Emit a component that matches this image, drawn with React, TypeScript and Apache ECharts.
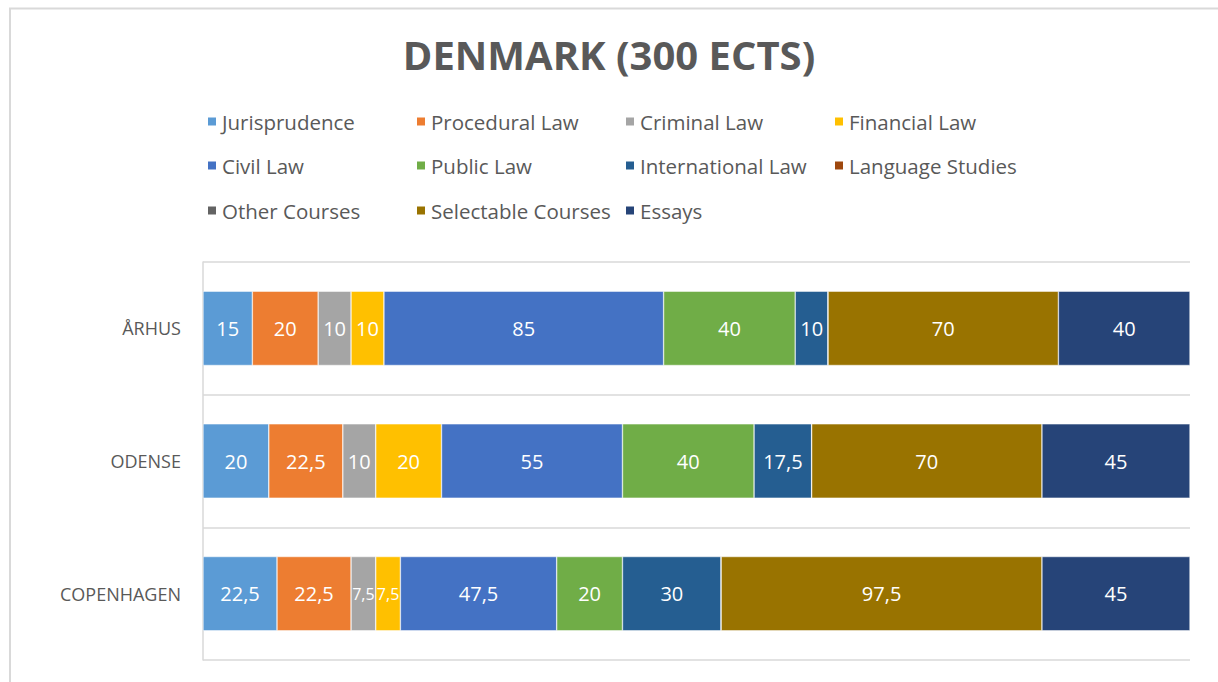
import React, { useEffect, useRef } from "react";
import * as echarts from "echarts";

const categories = ["ÅRHUS", "ODENSE", "COPENHAGEN"];
const seriesNames = [
  "Jurisprudence",
  "Procedural Law",
  "Criminal Law",
  "Financial Law",
  "Civil Law",
  "Public Law",
  "International Law",
  "Language Studies",
  "Other Courses",
  "Selectable Courses",
  "Essays",
];
const jurisprudence = [15, 20, 22.5];
const proceduralLaw = [20, 22.5, 22.5];
const criminalLaw = [10, 10, 7.5];
const financialLaw = [10, 20, 7.5];
const civilLaw = [85, 55, 47.5];
const publicLaw = [40, 40, 20];
const internationalLaw = [10, 17.5, 30];
const languageStudies = [0, 0, 0];
const otherCourses = [0, 0, 0];
const selectableCourses = [70, 70, 97.5];
const essays = [40, 45, 45];
const seriesValues = [
  jurisprudence,
  proceduralLaw,
  criminalLaw,
  financialLaw,
  civilLaw,
  publicLaw,
  internationalLaw,
  languageStudies,
  otherCourses,
  selectableCourses,
  essays,
];
const colors = [
  "#5B9BD5",
  "#ED7D31",
  "#A5A5A5",
  "#FFC000",
  "#4472C4",
  "#70AD47",
  "#255E91",
  "#9E480E",
  "#636363",
  "#997300",
  "#264478",
];

const FONT = "'Open Sans', 'Noto Sans', sans-serif";

export default function App() {
  const ref = useRef<HTMLDivElement>(null);
  useEffect(() => {
    if (!ref.current) return;
    const chart = echarts.init(ref.current, undefined, { renderer: "svg" });
    const colX = [206, 415, 624, 833];
    const rowY = [111, 155, 200];
    const legends = seriesNames.map((name, i) => ({
      show: true,
      left: colX[i % 4],
      top: rowY[Math.floor(i / 4)],
      padding: 0,
      itemWidth: 10,
      itemHeight: 10,
      icon: "rect",
      data: [name],
      selectedMode: false,
      textStyle: { color: "#595959", fontSize: 20.5, fontFamily: FONT },
    }));
    chart.setOption({
      animation: false,
      color: colors,
      title: {
        text: "DENMARK (300 ECTS)",
        left: "center",
        top: 29,
        textStyle: {
          color: "#595959",
          fontSize: 40,
          fontWeight: "bold",
          fontFamily: FONT,
        },
      },
      legend: legends,
      graphic: [
        {
          type: "polyline",
          shape: { points: [[10, 682], [10, 8.5], [1218, 8.5]] },
          style: { stroke: "#d9d9d9", lineWidth: 2, fill: "none" },
          silent: true,
        },
      ],
      grid: { left: 203, right: 28, top: 262, bottom: 22, containLabel: false },
      xAxis: {
        type: "value",
        min: 0,
        max: 300,
        axisLabel: { show: false },
        axisLine: { show: false },
        axisTick: { show: false },
        splitLine: { show: false },
      },
      yAxis: {
        type: "category",
        data: categories,
        inverse: true,
        axisLine: { show: true, lineStyle: { color: "#d9d9d9", width: 1.5 } },
        axisTick: { show: false },
        splitLine: { show: true, lineStyle: { color: "#d9d9d9", width: 1.5 } },
        axisLabel: {
          color: "#595959",
          fontSize: 18,
          fontFamily: FONT,
          margin: 22,
        },
      },
      series: seriesNames.map((name, i) => ({
        name,
        type: "bar",
        stack: "total",
        barWidth: "56%",
        data: seriesValues[i].map((v) =>
          v > 0 && v < 9 ? { value: v, label: { fontSize: 16 } } : v
        ),
        itemStyle: { color: colors[i], borderColor: "#ffffff", borderWidth: 0.5 },
        label: {
          show: true,
          position: "inside",
          color: "#ffffff",
          fontSize: 20,
          fontFamily: FONT,
          formatter: (p: any) =>
            p.value === 0 ? "" : String(p.value).replace(".", ","),
        },
      })),
    });
    return () => chart.dispose();
  }, []);
  return (
    <div
      ref={ref}
      style={{ position: "fixed", left: 0, top: 0, width: 1218, height: 682, background: "#fff" }}
    />
  );
}
